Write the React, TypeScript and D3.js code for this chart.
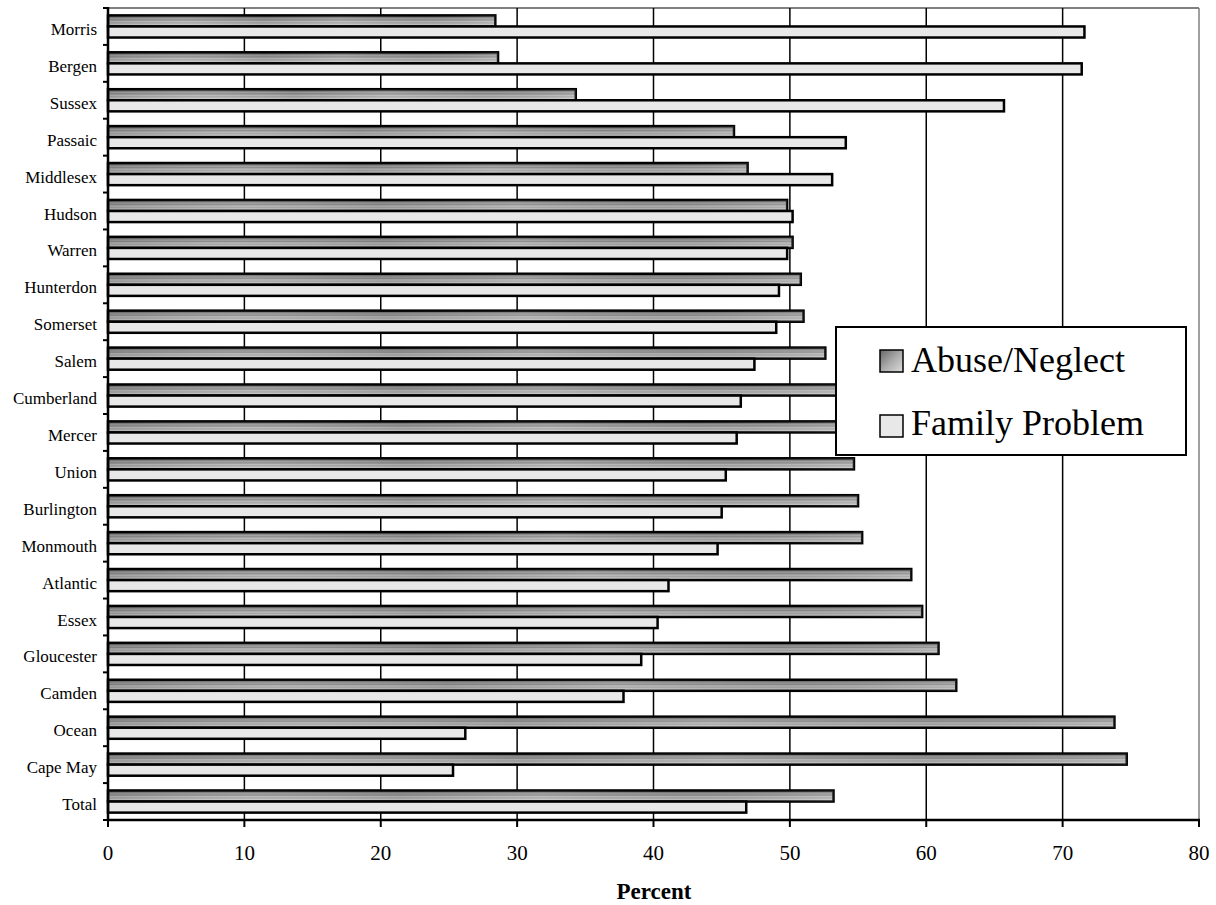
import React from "react";
import * as d3 from "d3";

const categories = [
  "Morris", "Bergen", "Sussex", "Passaic", "Middlesex", "Hudson", "Warren",
  "Hunterdon", "Somerset", "Salem", "Cumberland", "Mercer", "Union",
  "Burlington", "Monmouth", "Atlantic", "Essex", "Gloucester", "Camden",
  "Ocean", "Cape May", "Total",
];
const abuseNeglect = [
  28.4, 28.6, 34.3, 45.9, 46.9, 49.8, 50.2, 50.8, 51.0, 52.6, 53.6, 53.9,
  54.7, 55.0, 55.3, 58.9, 59.7, 60.9, 62.2, 73.8, 74.7, 53.2,
];
const familyProblem = [
  71.6, 71.4, 65.7, 54.1, 53.1, 50.2, 49.8, 49.2, 49.0, 47.4, 46.4, 46.1,
  45.3, 45.0, 44.7, 41.1, 40.3, 39.1, 37.8, 26.2, 25.3, 46.8,
];
const xTicks = [0, 10, 20, 30, 40, 50, 60, 70, 80];
const seriesNames = ["Abuse/Neglect", "Family Problem"];

const W = 1216;
const H = 905;
const FONT = "'Liberation Serif', 'Times New Roman', serif";

export default function App() {
  const x = d3.scaleLinear().domain([0, 80]).range([108, 1199]);
  const y = d3
    .scaleBand<string>()
    .domain(categories)
    .range([8, 820])
    .paddingInner(0.4)
    .paddingOuter(0.2);
  const step = y.step();
  const y1 = d3
    .scaleBand<string>()
    .domain(["abuse", "family"])
    .range([0, y.bandwidth()]);
  const boundaries = d3.range(categories.length + 1).map((i) => 8 + i * step);
  const plotTop = 8;
  const plotBottom = 820;

  return (
    <svg
      width={W}
      height={H}
      style={{ position: "absolute", left: 0, top: 0, background: "#fff" }}
      fontFamily={FONT}
    >
      <defs>
        <linearGradient id="abuseGrad" x1="0" y1="0" x2="0" y2="1">
          <stop offset="0" stopColor="#5a5a5a" />
          <stop offset="0.15" stopColor="#747474" />
          <stop offset="0.3" stopColor="#a0a0a0" />
          <stop offset="0.42" stopColor="#888" />
          <stop offset="0.55" stopColor="#bababa" />
          <stop offset="0.68" stopColor="#a2a2a2" />
          <stop offset="0.82" stopColor="#c4c4c4" />
          <stop offset="1" stopColor="#cdcdcd" />
        </linearGradient>
        <linearGradient id="abuseHoriz" x1="0" y1="0" x2="1" y2="0">
          <stop offset="0" stopColor="#000" stopOpacity="0.1" />
          <stop offset="0.2" stopColor="#fff" stopOpacity="0.05" />
          <stop offset="0.4" stopColor="#000" stopOpacity="0.08" />
          <stop offset="0.6" stopColor="#fff" stopOpacity="0.08" />
          <stop offset="0.8" stopColor="#000" stopOpacity="0.05" />
          <stop offset="1" stopColor="#fff" stopOpacity="0.12" />
        </linearGradient>
        <linearGradient id="legendGrad" x1="0" y1="0" x2="1" y2="1">
          <stop offset="0" stopColor="#666" />
          <stop offset="0.5" stopColor="#aaa" />
          <stop offset="1" stopColor="#ddd" />
        </linearGradient>
      </defs>

      {/* top and right border */}
      <line x1={x(0)} x2={x(80)} y1={plotTop} y2={plotTop} stroke="#808080" strokeWidth={2} />
      <line x1={x(80)} x2={x(80)} y1={plotTop} y2={plotBottom} stroke="#808080" strokeWidth={1.5} />

      {/* gridlines */}
      {xTicks
        .filter((t) => t > 0 && t < 80)
        .map((t) => (
          <line key={"g" + t} x1={x(t)} x2={x(t)} y1={plotTop} y2={plotBottom} stroke="#000" strokeWidth={1.5} />
        ))}

      {/* bars */}
      {categories.map((c, i) => {
        const by = y(c)!;
        return (
          <g key={c}>
            <rect
              x={x(0)}
              y={by + y1("abuse")!}
              width={x(abuseNeglect[i]) - x(0)}
              height={y1.bandwidth()}
              fill="url(#abuseGrad)"
              stroke="#000"
              strokeWidth={2.5}
            />
            <rect
              x={x(0)}
              y={by + y1("abuse")!}
              width={x(abuseNeglect[i]) - x(0)}
              height={y1.bandwidth()}
              fill="url(#abuseHoriz)"
              stroke="none"
            />
            <rect
              x={x(0)}
              y={by + y1("family")!}
              width={x(familyProblem[i]) - x(0)}
              height={y1.bandwidth()}
              fill="#e8e8e8"
              stroke="#000"
              strokeWidth={2.5}
            />
          </g>
        );
      })}

      {/* y axis */}
      <line x1={x(0)} x2={x(0)} y1={plotTop - 1} y2={plotBottom + 1} stroke="#000" strokeWidth={2.5} />
      {boundaries.map((b, i) => (
        <line key={"yt" + i} x1={x(0) - 5} x2={x(0)} y1={b} y2={b} stroke="#000" strokeWidth={2} />
      ))}
      {categories.map((c) => (
        <text
          key={"yl" + c}
          x={97}
          y={y(c)! + y.bandwidth() / 2 + 8.5}
          textAnchor="end"
          fontSize={17}
          fill="#000"
        >
          {c}
        </text>
      ))}

      {/* x axis */}
      <line x1={x(0) - 1} x2={x(80) + 1} y1={plotBottom} y2={plotBottom} stroke="#000" strokeWidth={2.5} />
      {xTicks.map((t) => (
        <g key={"xt" + t}>
          <line x1={x(t)} x2={x(t)} y1={plotBottom} y2={plotBottom + 7} stroke="#000" strokeWidth={2} />
          <text x={x(t)} y={860} textAnchor="middle" fontSize={21} fill="#000">
            {t}
          </text>
        </g>
      ))}
      <text x={654} y={899} textAnchor="middle" fontSize={23} fontWeight="bold" fill="#000">
        Percent
      </text>

      {/* legend */}
      <rect x={836} y={327} width={350} height={128} fill="#fff" stroke="#000" strokeWidth={2} />
      <rect x={880} y={350} width={23} height={22} fill="url(#legendGrad)" stroke="#000" strokeWidth={1.5} />
      <text x={911} y={372} fontSize={36} fill="#000">
        {seriesNames[0]}
      </text>
      <rect x={880} y={415} width={23} height={22} fill="#e8e8e8" stroke="#000" strokeWidth={1.5} />
      <text x={911} y={435} fontSize={36} fill="#000">
        {seriesNames[1]}
      </text>
    </svg>
  );
}
